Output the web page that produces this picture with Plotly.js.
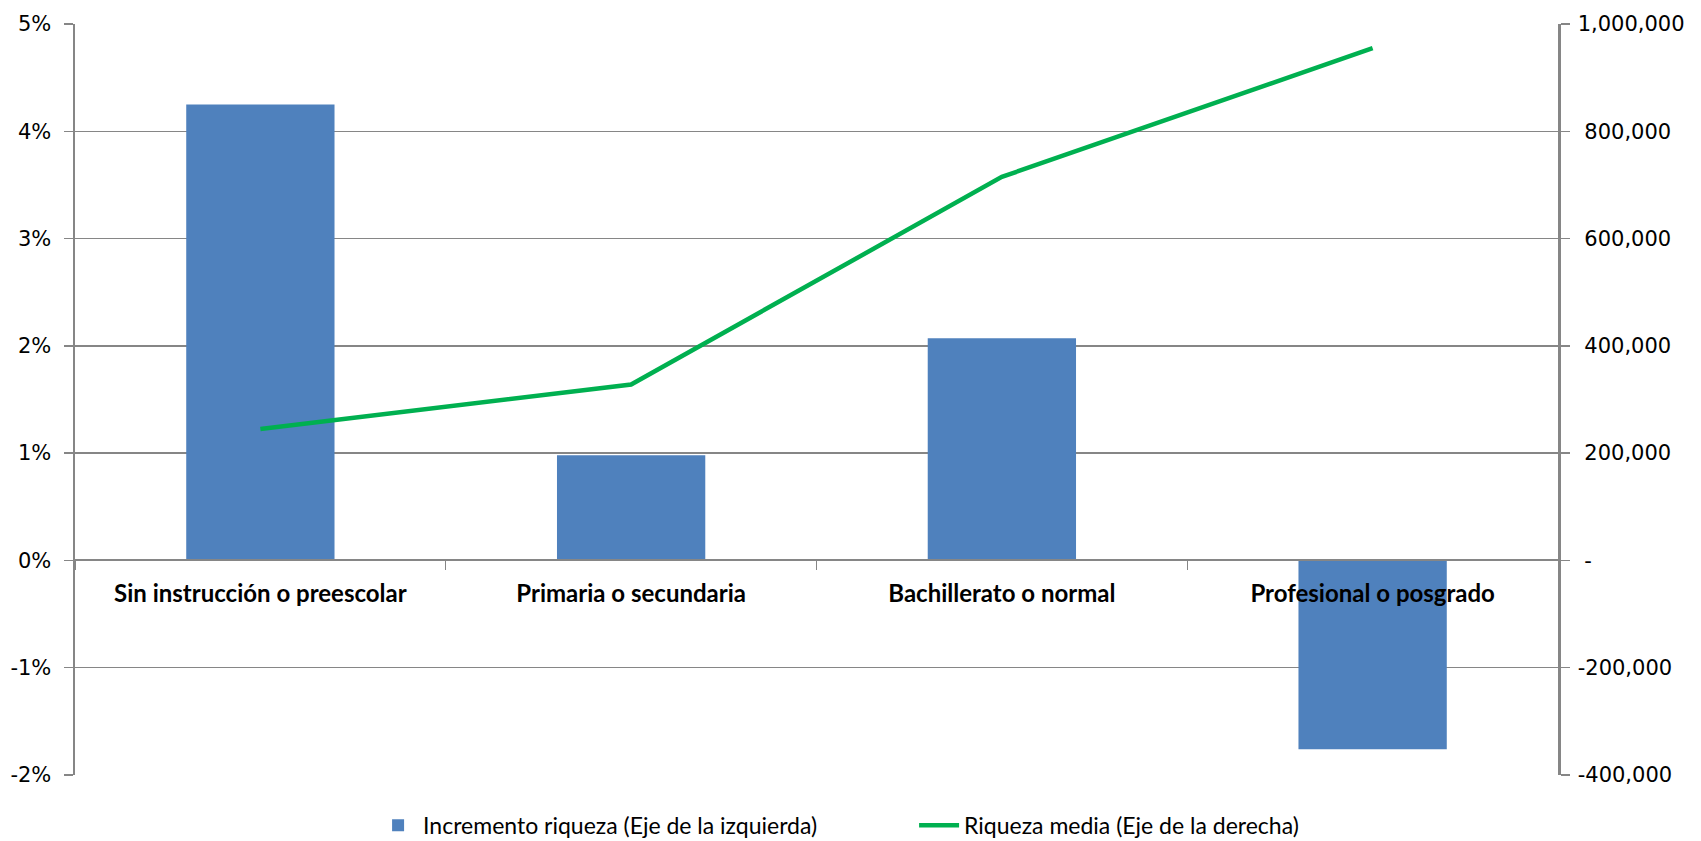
<!DOCTYPE html>
<html>
<head>
<meta charset="utf-8">
<script src="https://cdn.plot.ly/plotly-3.0.1.min.js"></script>
<style>html,body{margin:0;padding:0;background:#fff;}#chart{width:1701px;height:841px;}</style>
</head>
<body>
<div id="chart"></div>
<script>
const categories = ["Sin instrucción o preescolar", "Primaria o secundaria", "Bachillerato o normal", "Profesional o posgrado"];
const incrementoRiqueza = [0.0425, 0.0098, 0.0207, -0.0176];
const riquezaMedia = [245000, 328000, 715000, 955000];
const leftTickVals = [-0.02, -0.01, 0, 0.01, 0.02, 0.03, 0.04, 0.05];
const leftTickText = ["-2%", "-1%", "0%", "1%", "2%", "3%", "4%", "5%"];
const rightTickVals = [-400000, -200000, 0, 200000, 400000, 600000, 800000, 1000000];
const rightTickText = ["-400,000", "-200,000", " -", " 200,000", " 400,000", " 600,000", " 800,000", "1,000,000"];
const seriesNames = ["Incremento riqueza (Eje de la izquierda)", "Riqueza media (Eje de la derecha)"];

const gray = "#868686";
const tickFont = {family: "DejaVu Sans, Verdana, sans-serif", size: 21, color: "#000"};

const traces = [
  {
    type: "bar", x: categories, y: incrementoRiqueza, name: seriesNames[0],
    marker: {color: "#4F81BD", line: {width: 0}}, yaxis: "y", xaxis: "x"
  },
  {
    type: "scatter", mode: "lines", x: categories, y: riquezaMedia, name: seriesNames[1],
    line: {color: "#00B050", width: 4.5}, yaxis: "y2", xaxis: "x"
  }
];

const layout = {
  width: 1701, height: 841,
  margin: {l: 75, r: 143, t: 24, b: 66, autoexpand: false},
  paper_bgcolor: "#fff", plot_bgcolor: "#fff",
  bargap: 0.6,
  showlegend: true,
  legend: {
    orientation: "h", x: 0.201, xanchor: "left", y: -0.0955, yanchor: "bottom",
    font: {family: "Lato, sans-serif", size: 23, color: "#000"},
    itemwidth: 40, traceorder: "normal", entrywidth: 486, entrywidthmode: "pixels",
    tracegroupgap: 0
  },
  xaxis: {
    type: "category", anchor: "free", position: 2/7,
    showline: true, linecolor: gray, linewidth: 2,
    ticks: "outside", tickson: "boundaries", ticklen: 9, tickcolor: gray, tickwidth: 1,
    showgrid: false, zeroline: false, layer: "above traces",
    tickfont: {family: "Lato, sans-serif", size: 24, color: "#000", weight: "bold"},
    ticklabelstandoff: 12,
    range: [-0.5, 3.5], fixedrange: true
  },
  yaxis: {
    range: [-0.02, 0.05], tickvals: leftTickVals, ticktext: leftTickText,
    showline: true, linecolor: gray, linewidth: 2.5,
    ticks: "outside", ticklen: 9, tickcolor: gray, tickwidth: 1.5,
    showgrid: true, gridcolor: gray, gridwidth: 1.5,
    zeroline: false, tickfont: tickFont, ticklabelstandoff: 8
  },
  yaxis2: {
    overlaying: "y", side: "right", anchor: "x",
    range: [-400000, 1000000], tickvals: rightTickVals, ticktext: rightTickText,
    showline: true, linecolor: gray, linewidth: 2.5,
    ticks: "outside", ticklen: 9, tickcolor: gray, tickwidth: 1.5,
    showgrid: false, zeroline: false, tickfont: tickFont, ticklabelstandoff: 4
  }
};

Plotly.newPlot("chart", traces, layout, {displayModeBar: false, staticPlot: true});
</script>
</body>
</html>
